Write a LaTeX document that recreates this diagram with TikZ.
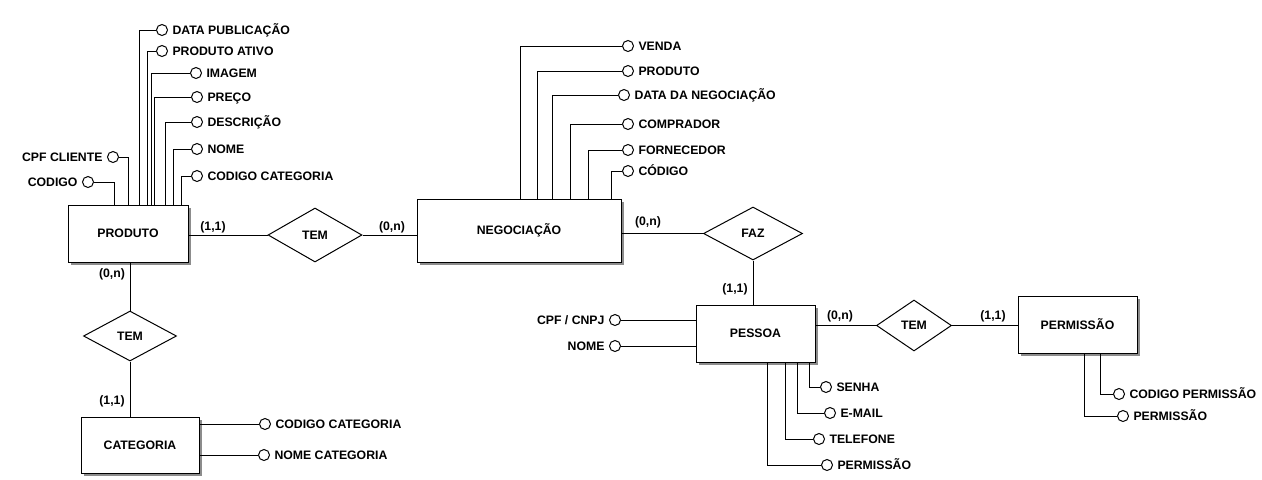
\documentclass[tikz,border=0pt]{standalone}
\usepackage{fontspec}
\setmainfont{Liberation Sans}
\usepackage{tikz}
\usetikzlibrary{shapes.geometric,shadows,calc}

\begin{document}
\begin{tikzpicture}[x=0.75pt,y=-0.75pt,line width=0.75pt,
  font=\fontsize{9.2pt}{10pt}\selectfont\bfseries,
  ent/.style={draw,fill=white,inner sep=0pt,drop shadow={shadow xshift=2pt,shadow yshift=-2pt,fill=gray!90,opacity=1}},
  rel/.style={draw,diamond,fill=white,inner sep=0pt},
  att/.style={draw,circle,minimum size=8.25pt,inner sep=0pt},
  every label/.style={text height=6.6pt,text depth=0pt,inner sep=3pt},
  card/.style={inner sep=0pt}]
	\useasboundingbox (0,0) rectangle (1262,479);
	\node[ent,minimum width=90pt,minimum height=42.75pt] (P) at (128,233.5) {PRODUTO};
	\node[ent,minimum width=153pt,minimum height=47.25pt] (N) at (519,230.5) {NEGOCIAÇÃO};
	\node[ent,minimum width=89.25pt,minimum height=42.75pt] (S) at (755.5,333.5) {PESSOA};
	\node[ent,minimum width=89.25pt,minimum height=42.75pt] (M) at (1077.5,324.5) {PERMISSÃO};
	\node[ent,minimum width=88.5pt,minimum height=42pt] (C) at (140,445) {CATEGORIA};
	\node[rel,minimum width=70.5pt,minimum height=40.5pt] (T1) at (315,235) {TEM};
	\node[rel,minimum width=74.25pt,minimum height=39.75pt] (F) at (753,233.5) {FAZ};
	\node[rel,minimum width=56.25pt,minimum height=38.25pt] (T2) at (914,325.5) {TEM};
	\node[rel,minimum width=69.75pt,minimum height=37.5pt] (T3) at (130,336) {TEM};

	\draw (T1.west) -- (T1.west -| P.east);
	\draw (T1.east) -- (T1.east -| N.west);
	\draw (F.west) -- (F.west -| N.east);
	\draw (F.south) -- (F.south |- S.north);
	\draw (T2.west) -- (T2.west -| S.east);
	\draw (T2.east) -- (T2.east -| M.west);
	\draw (T3.north) -- (T3.north |- P.south);
	\draw (T3.south) -- (T3.south |- C.north);

	\node[card] (K1) at (213,227) {(1,1)};
	\node[card] (K2) at (392,227) {(0,n)};
	\node[card] (K3) at (648,222) {(0,n)};
	\node[card] (K4) at (735,289) {(1,1)};
	\node[card] (K5) at (840,316) {(0,n)};
	\node[card] (K6) at (993,316) {(1,1)};
	\node[card] (K7) at (112,274) {(0,n)};
	\node[card] (K8) at (112,401) {(1,1)};

	\node[att,label=right:DATA PUBLICAÇÃO] (A1) at (162,30) {};
	\node[att,label=right:PRODUTO ATIVO] (A2) at (162,51) {};
	\node[att,label=right:IMAGEM] (A3) at (196,73) {};
	\node[att,label=right:PREÇO] (A4) at (197,97) {};
	\node[att,label=right:DESCRIÇÃO] (A5) at (197,122) {};
	\node[att,label=right:NOME] (A6) at (197,149) {};
	\node[att,label=right:CODIGO CATEGORIA] (A7) at (197,176) {};
	\node[att,label=left:CPF CLIENTE] (A8) at (113,157) {};
	\node[att,label=left:CODIGO] (A9) at (88,182) {};
	\draw (A1.west) -| ($(P.north west)+(72,0)$);
	\draw (A2.west) -| ($(P.north west)+(80,0)$);
	\draw (A3.west) -| ($(P.north west)+(84,0)$);
	\draw (A4.west) -| ($(P.north west)+(87,0)$);
	\draw (A5.west) -| ($(P.north west)+(98,0)$);
	\draw (A6.west) -| ($(P.north west)+(106,0)$);
	\draw (A7.west) -| ($(P.north west)+(114,0)$);
	\draw (A8.east) -| ($(P.north west)+(61,0)$);
	\draw (A9.east) -| ($(P.north west)+(47,0)$);

	\node[att,label=right:VENDA] (B1) at (628,46) {};
	\node[att,label=right:PRODUTO] (B2) at (628,71) {};
	\node[att,label=right:DATA DA NEGOCIAÇÃO] (B3) at (624,95) {};
	\node[att,label=right:COMPRADOR] (B4) at (628,124) {};
	\node[att,label=right:FORNECEDOR] (B5) at (628,150) {};
	\node[att,label=right:CÓDIGO] (B6) at (628,171) {};
	\draw (B1.west) -| ($(N.north west)+(104,0)$);
	\draw (B2.west) -| ($(N.north west)+(121,0)$);
	\draw (B3.west) -| ($(N.north west)+(136,0)$);
	\draw (B4.west) -| ($(N.north west)+(154,0)$);
	\draw (B5.west) -| ($(N.north west)+(172,0)$);
	\draw (B6.west) -| ($(N.north west)+(195,0)$);

	\node[att,label=left:CPF / CNPJ] (D1) at (615,320) {};
	\node[att,label=left:NOME] (D2) at (615,346) {};
	\node[att,label=right:SENHA] (D3) at (826,387) {};
	\node[att,label=right:E-MAIL] (D4) at (830,413) {};
	\node[att,label=right:TELEFONE] (D5) at (819,439) {};
	\node[att,label=right:PERMISSÃO] (D6) at (827,465) {};
	\draw (D1.east) -- (D1.east -| S.west);
	\draw (D2.east) -- (D2.east -| S.west);
	\draw (D3.west) -| ($(S.south west)+(114,0)$);
	\draw (D4.west) -| ($(S.south west)+(102,0)$);
	\draw (D5.west) -| ($(S.south west)+(90,0)$);
	\draw (D6.west) -| ($(S.south west)+(72,0)$);

	\node[att,label=right:CODIGO PERMISSÃO] (E1) at (1119,394) {};
	\node[att,label=right:PERMISSÃO] (E2) at (1123,416) {};
	\draw (E1.west) -| ($(M.south west)+(83,0)$);
	\draw (E2.west) -| ($(M.south west)+(67,0)$);

	\node[att,label=right:CODIGO CATEGORIA] (G1) at (265,424) {};
	\node[att,label=right:NOME CATEGORIA] (G2) at (264,455) {};
	\draw (G1.west) -- (G1.west -| C.east);
	\draw (G2.west) -- (G2.west -| C.east);
\end{tikzpicture}
\end{document}
